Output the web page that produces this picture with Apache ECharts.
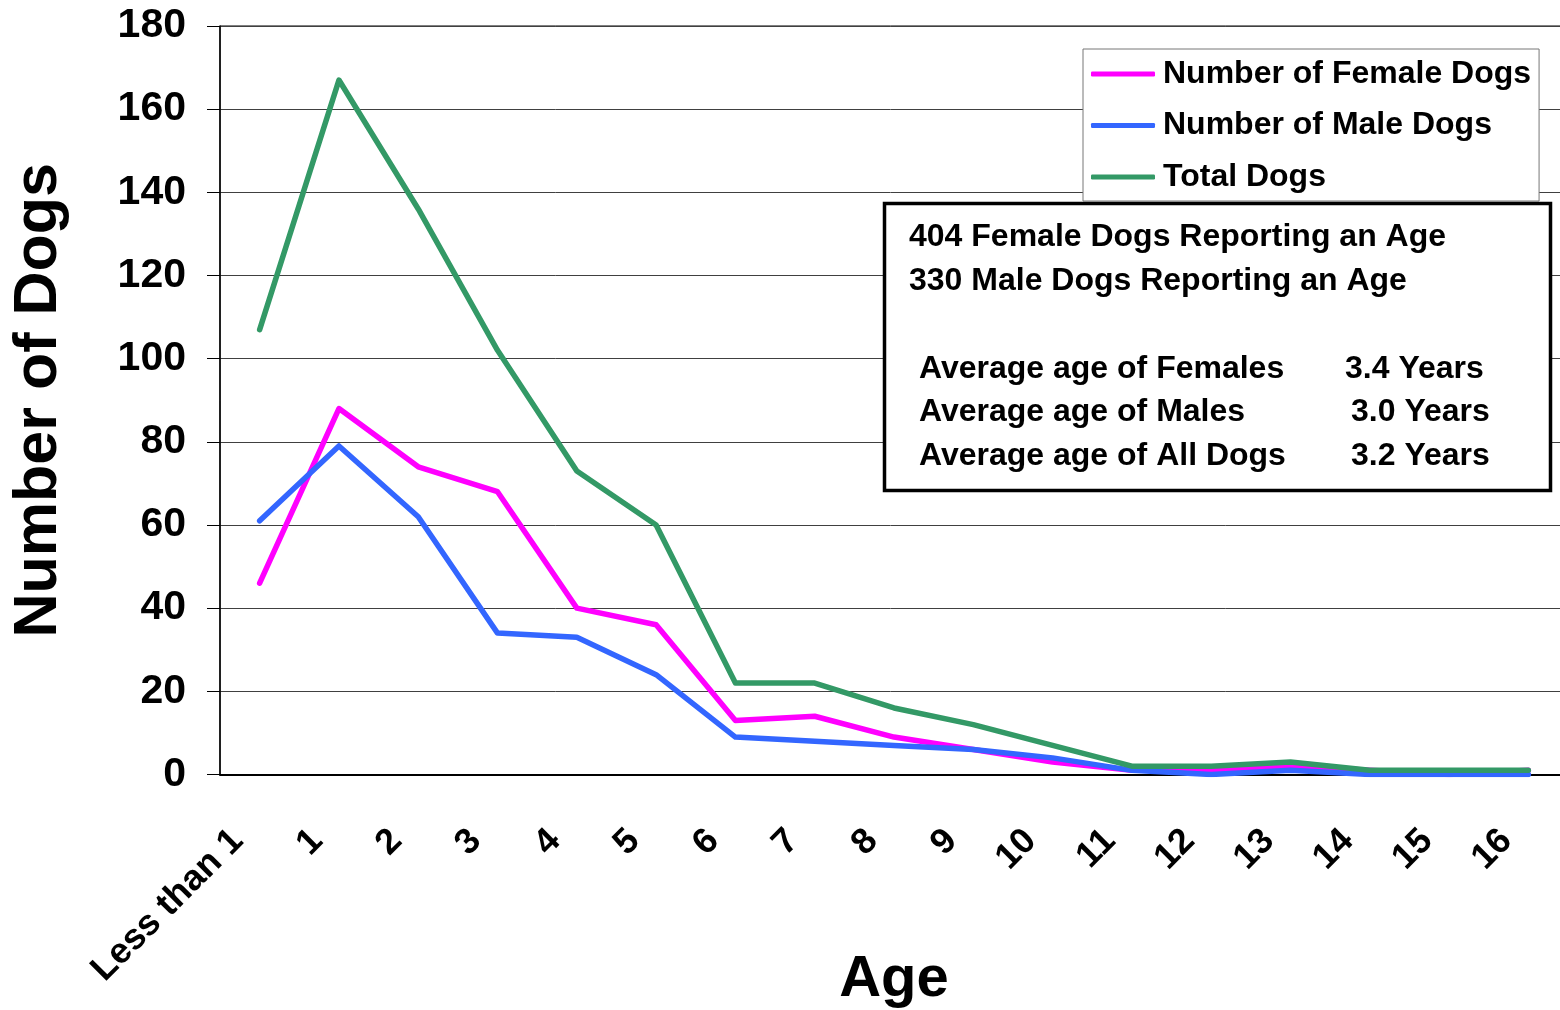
<!DOCTYPE html>
<html>
<head>
<meta charset="utf-8">
<script src="https://cdn.jsdelivr.net/npm/echarts@6/dist/echarts.min.js"></script>
<style>
html,body{margin:0;padding:0;background:#fff;}
#chart{width:1560px;height:1010px;}
</style>
</head>
<body>
<div id="chart"></div>
<script>
const categories = ['Less than 1','1','2','3','4','5','6','7','8','9','10','11','12','13','14','15','16'];
const femaleDogs = [46,88,74,68,40,36,13,14,9,6,3,1,1,2,1,0,1];
const maleDogs   = [61,79,62,34,33,24,9,8,7,6,4,1,0,1,0,0,0];
const totalDogs  = [107,167,136,102,73,60,22,22,16,12,7,2,2,3,1,1,1];
const seriesNames = ['Number of Female Dogs','Number of Male Dogs','Total Dogs'];
const yTicks = {min:0, max:180, interval:20};
const infoLines = [
  '404 Female Dogs Reporting an Age',
  '330 Male Dogs Reporting an Age'
];
const avgLabels = ['Average age of Females','Average age of Males','Average age of All Dogs'];
const avgValues = ['3.4 Years','3.0 Years','3.2 Years'];

const FONT = '"Liberation Sans", Arial, sans-serif';
const chart = echarts.init(document.getElementById('chart'), null, {renderer:'canvas'});

const lineStyle = (c) => ({color:c, width:5.5, cap:'round', join:'round'});
const colors = ['#FF00FF','#3366FF','#339966'];

const graphics = [
  {type:'rect', shape:{x:884.5, y:203.5, width:666, height:287},
   style:{fill:'#fff', stroke:'#000', lineWidth:3.5}, z:100}
];
const infoY = [237, 281];
infoLines.forEach((t,i)=>graphics.push({type:'text', z:101,
  style:{text:t, x:909, y:infoY[i], font:'bold 32px '+FONT, fill:'#000', verticalAlign:'middle'}}));
const avgY = [369, 412, 456];
avgLabels.forEach((t,i)=>graphics.push({type:'text', z:101,
  style:{text:t, x:919, y:avgY[i], font:'bold 32px '+FONT, fill:'#000', verticalAlign:'middle'}}));
const avgX = [1345, 1351, 1351];
avgValues.forEach((t,i)=>graphics.push({type:'text', z:101,
  style:{text:t, x:avgX[i], y:avgY[i], font:'bold 32px '+FONT, fill:'#000', verticalAlign:'middle'}}));

chart.setOption({
  animation:false,
  backgroundColor:'#fff',
  textStyle:{fontFamily:FONT},
  color:colors,
  grid:{left:220, top:26, width:1348, bottom:235.5, outerBoundsMode:'none', containLabel:false,
        show:true, borderColor:'#000', borderWidth:1, backgroundColor:'transparent'},
  legend:{
    orient:'vertical', left:1083, top:49, width:450,
    backgroundColor:'#fff', borderColor:'#777', borderWidth:1,
    padding:[7,8,6,8], itemGap:15.5, itemWidth:64, itemHeight:5,
    icon:'roundRect',
    textStyle:{fontFamily:FONT, fontWeight:'bold', fontSize:32, color:'#000', lineHeight:36, padding:[0,0,0,3]},
    data:seriesNames, z:50
  },
  xAxis:{
    type:'category', data:categories, boundaryGap:true,
    axisLine:{lineStyle:{color:'#000', width:2}},
    axisTick:{show:false},
    axisLabel:{rotate:45, interval:0, margin:39, color:'#000', fontFamily:FONT, fontWeight:'bold', fontSize:36, padding:[0,31,0,0]},
    name:'Age', nameLocation:'middle', nameGap:176, nameMoveOverlap:false,
    nameTextStyle:{fontFamily:FONT, fontWeight:'bold', fontSize:58, color:'#000'}
  },
  yAxis:{
    type:'value', min:yTicks.min, max:yTicks.max, interval:yTicks.interval,
    axisLine:{show:true, lineStyle:{color:'#000', width:1.5}},
    axisTick:{show:true, inside:false, length:13, lineStyle:{color:'#000', width:1}},
    axisLabel:{margin:34, color:'#000', fontFamily:FONT, fontWeight:'bold', fontSize:41},
    splitLine:{show:true, lineStyle:{color:'#404040', width:1}},
    name:'Number of Dogs', nameLocation:'middle', nameRotate:90, nameGap:150, nameMoveOverlap:false,
    nameTextStyle:{fontFamily:FONT, fontWeight:'bold', fontSize:61, color:'#000'}
  },
  series:[
    {name:seriesNames[0], type:'line', data:femaleDogs, symbol:'none', lineStyle:lineStyle(colors[0]), z:3},
    {name:seriesNames[1], type:'line', data:maleDogs, symbol:'none', lineStyle:lineStyle(colors[1]), z:4},
    {name:seriesNames[2], type:'line', data:totalDogs, symbol:'none', lineStyle:lineStyle(colors[2]), z:5}
  ],
  graphic:graphics
});
</script>
</body>
</html>
